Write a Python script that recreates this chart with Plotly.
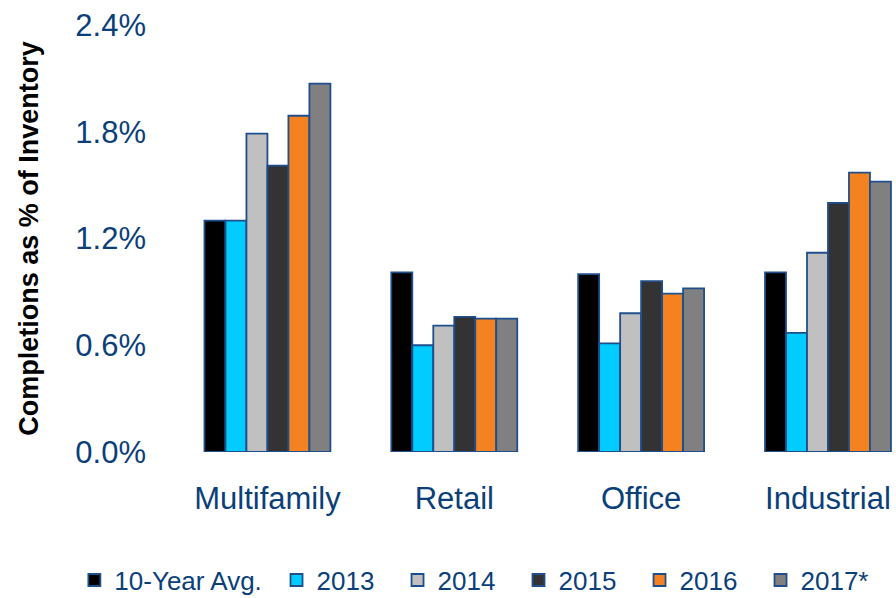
import plotly.graph_objects as go

categories = ["Multifamily", "Retail", "Office", "Industrial"]
series_names = ["10-Year Avg.", "2013", "2014", "2015", "2016", "2017*"]
avg10 = [1.30, 1.01, 1.00, 1.01]
y2013 = [1.30, 0.60, 0.61, 0.67]
y2014 = [1.79, 0.71, 0.78, 1.12]
y2015 = [1.61, 0.76, 0.96, 1.40]
y2016 = [1.89, 0.75, 0.89, 1.57]
y2017 = [2.07, 0.75, 0.92, 1.52]
colors = ["#000000", "#00CCFF", "#C0C0C0", "#333333", "#F58220", "#808080"]
tick_vals = [0.0, 0.6, 1.2, 1.8, 2.4]
tick_text = ["0.0%", "0.6%", "1.2%", "1.8%", "2.4%"]

values = [avg10, y2013, y2014, y2015, y2016, y2017]
blue = "#0B3F7A"

fig = go.Figure()
for i, (name, vals, col) in enumerate(zip(series_names, values, colors)):
    fig.add_trace(go.Bar(
        x=categories, y=vals, name=name,
        marker=dict(color=col, line=dict(color="#1F4E8C", width=1.8)),
        legend="legend" if i == 0 else "legend2",
    ))

fig.update_layout(
    width=896, height=598,
    margin=dict(l=174, r=0, t=25, b=146, autoexpand=False),
    paper_bgcolor="white", plot_bgcolor="white",
    barmode="group", bargap=0.326, bargroupgap=0,
    font=dict(family="Arial, Liberation Sans, sans-serif", color=blue),
    showlegend=True,
    legend=dict(orientation="h", x=-0.138, xanchor="left", y=-0.30, yanchor="middle",
                font=dict(size=26, color=blue), itemwidth=30, traceorder="normal"),
    legend2=dict(orientation="h", x=0.142, xanchor="left", y=-0.30, yanchor="middle",
                 font=dict(size=26, color=blue), itemwidth=30, traceorder="normal",
                 entrywidth=76, entrywidthmode="pixels"),
    xaxis=dict(range=[-0.5, 3.364], showgrid=False, showline=False, ticks="",
               automargin=False,
               tickfont=dict(size=31, color=blue), ticklabelstandoff=25),
    yaxis=dict(range=[0, 2.4], tickvals=tick_vals, ticktext=tick_text, showgrid=False,
               showline=False, zeroline=False, ticks="", tickfont=dict(size=31, color=blue),
               ticklabelstandoff=27, automargin=False,
               title=dict(text="<b>Completions as % of Inventory</b>",
                          font=dict(size=27, color="#000000"), standoff=28)),
)

fig.write_html("out.html", config={"displayModeBar": False},
               post_script="document.body.style.margin='0';document.body.style.overflow='hidden';")
